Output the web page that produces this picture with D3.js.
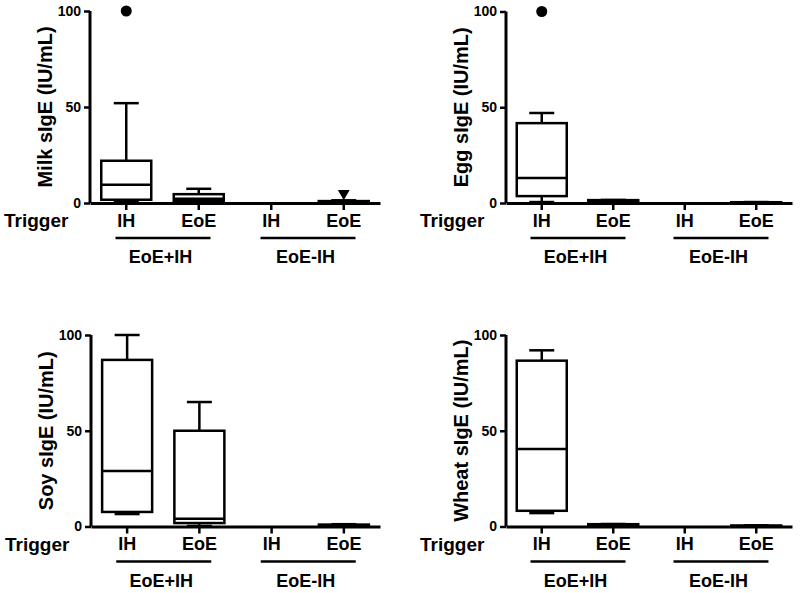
<!DOCTYPE html>
<html><head><meta charset="utf-8">
<script src="https://cdn.jsdelivr.net/npm/d3@7"></script>
<style>body{margin:0;background:#fff}svg{display:block}text{font-family:"Liberation Sans",Arial,sans-serif;font-weight:bold;fill:#000}</style>
</head><body>
<script>
const categories = ["IH", "EoE", "IH", "EoE"];
const groups = ["EoE+IH", "EoE-IH"];
const yTicks = [0, 50, 100];
const panelTitles = ["Milk sIgE (IU/mL)", "Egg sIgE (IU/mL)", "Soy sIgE (IU/mL)", "Wheat sIgE (IU/mL)"];
// each box: [min, q1, median, q3, max]
const milkBoxes  = [[0.5, 1.7, 9.5, 22, 52], [0.3, 1.0, 2.2, 4.6, 7.4], [0, 0, 0, 0, 0], [0, 0.2, 0.5, 1.0, 1.4]];
const eggBoxes   = [[0.5, 3.6, 13, 41.7, 47], [0.3, 0.6, 1.0, 1.5, 1.6], [0, 0, 0, 0, 0], [0, 0.1, 0.2, 0.4, 0.5]];
const soyBoxes   = [[6.5, 7.6, 29, 87, 100], [0.3, 1.8, 4, 50, 65], [0, 0, 0, 0, 0], [0, 0.3, 0.6, 1.0, 1.2]];
const wheatBoxes = [[7, 8.2, 40.5, 86.6, 92], [0.2, 0.5, 0.8, 1.2, 1.3], [0, 0, 0, 0, 0], [0, 0.1, 0.2, 0.5, 0.6]];
// outliers: [categoryIndex, value, shape]
const milkOutliers  = [[0, 100, "circle"], [3, 5, "triangle"]];
const eggOutliers   = [[0, 100, "circle"]];
const soyOutliers   = [];
const wheatOutliers = [];

const W = 800, H = 593;
const svg = d3.select("body").append("svg").attr("width", W).attr("height", H);

const panels = [
  {boxes: milkBoxes, outliers: milkOutliers, title: panelTitles[0], ax: 90, xr: 380, y0: 203, y100: 11},
  {boxes: eggBoxes, outliers: eggOutliers, title: panelTitles[1], ax: 506, xr: 792, y0: 203, y100: 11.5},
  {boxes: soyBoxes, outliers: soyOutliers, title: panelTitles[2], ax: 91, xr: 380, y0: 526.5, y100: 335},
  {boxes: wheatBoxes, outliers: wheatOutliers, title: panelTitles[3], ax: 506, xr: 792, y0: 526.5, y100: 335}
];

panels.forEach(p => {
  const g = svg.append("g");
  const y = d3.scaleLinear().domain([0, 100]).range([p.y0, p.y100]);
  const x = d3.scaleBand().domain(d3.range(categories.length)).range([p.ax, p.xr]).paddingInner(0).paddingOuter(0);
  const cx = i => x(i) + x.bandwidth() / 2;
  const boxW = 50, capW = 25;

  // y axis
  const ya = g.append("g").attr("transform", `translate(${p.ax},0)`)
    .call(d3.axisLeft(y).tickValues(yTicks).tickSize(6).tickPadding(3));
  ya.select(".domain").attr("stroke-width", 3).attr("d", `M0,${p.y0}V${p.y100}`);
  ya.selectAll(".tick line").attr("stroke-width", 2.5);
  ya.selectAll(".tick text").style("font-size", "14px").style("font-family", '"Liberation Sans",Arial,sans-serif').style("font-weight", "bold");

  // x axis
  const xa = g.append("g").attr("transform", `translate(0,${p.y0})`)
    .call(d3.axisBottom(x).tickFormat(i => categories[i]).tickSize(7).tickSizeOuter(0).tickPadding(4));
  xa.select(".domain").attr("stroke-width", 3);
  xa.selectAll(".tick line").attr("stroke-width", 2.5);
  xa.selectAll(".tick text").style("font-size", "18px").style("font-family", '"Liberation Sans",Arial,sans-serif').style("font-weight", "bold");

  // Trigger label
  g.append("text").attr("x", p.ax - 86).attr("y", p.y0 + 24).style("font-size", "19px").text("Trigger");

  // group underline + labels
  groups.forEach((gr, k) => {
    const mid = (cx(2 * k) + cx(2 * k + 1)) / 2;
    g.append("line").attr("x1", mid - 47).attr("x2", mid + 48).attr("y1", p.y0 + 35).attr("y2", p.y0 + 35)
      .attr("stroke", "#000").attr("stroke-width", 2.5);
    g.append("text").attr("x", mid - 2).attr("y", p.y0 + 60).attr("text-anchor", "middle").style("font-size", "18px").text(gr);
  });

  // y title
  g.append("text").attr("transform", `translate(${p.ax - 38},${(p.y0 + p.y100) / 2}) rotate(-90)`)
    .attr("text-anchor", "middle").style("font-size", "20px").text(p.title);

  // boxes
  p.boxes.forEach((b, i) => {
    const [mn, q1, md, q3, mx] = b;
    const c = cx(i);
    if (mx === 0 && mn === 0) return;
    const bg = g.append("g").attr("stroke", "#000").attr("stroke-width", 2.5).attr("fill", "none");
    bg.append("line").attr("x1", c).attr("x2", c).attr("y1", y(q3)).attr("y2", y(mx));
    bg.append("line").attr("x1", c - capW / 2).attr("x2", c + capW / 2).attr("y1", y(mx)).attr("y2", y(mx));
    bg.append("line").attr("x1", c).attr("x2", c).attr("y1", y(q1)).attr("y2", y(mn));
    bg.append("line").attr("x1", c - capW / 2).attr("x2", c + capW / 2).attr("y1", y(mn)).attr("y2", y(mn));
    bg.append("rect").attr("x", c - boxW / 2).attr("width", boxW).attr("y", y(q3)).attr("height", Math.max(0, y(q1) - y(q3))).attr("fill", "#fff");
    bg.append("line").attr("x1", c - boxW / 2).attr("x2", c + boxW / 2).attr("y1", y(md)).attr("y2", y(md));
  });

  // outliers
  p.outliers.forEach(([i, v, shape]) => {
    const c = cx(i);
    if (shape === "circle") {
      g.append("circle").attr("cx", c).attr("cy", y(v)).attr("r", 5.5).attr("fill", "#000");
    } else {
      g.append("path").attr("d", d3.symbol().type(d3.symbolTriangle).size(60)())
        .attr("transform", `translate(${c},${y(v)}) rotate(180)`).attr("fill", "#000");
    }
  });
});
</script>
</body></html>
